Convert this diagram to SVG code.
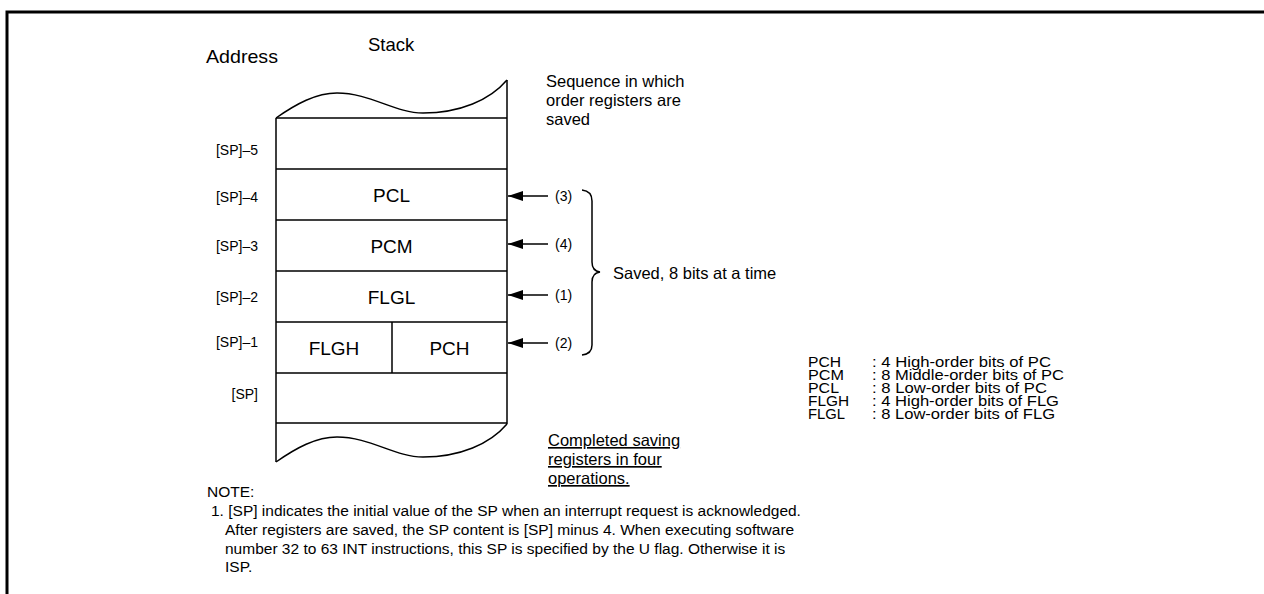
<svg xmlns="http://www.w3.org/2000/svg" width="1264" height="594" viewBox="0 0 1264 594">
<style>
text{font-family:"Liberation Sans",Arial,sans-serif;fill:#000}
.ln{stroke:#000;stroke-width:1.5;fill:none}
.addr{font-size:14px;text-anchor:end}
.reg{font-size:19px;text-anchor:middle}
.num{font-size:14px}
.lbl{font-size:16.5px}
.leg{font-size:14.5px}
.note{font-size:15.5px}
</style>
<defs>
<marker id="ah" markerUnits="userSpaceOnUse" markerWidth="16" markerHeight="10" refX="15" refY="5" orient="auto">
<path d="M0,0 L15,5 L0,10 Z" fill="#000"/>
</marker>
</defs>
<rect width="1264" height="594" fill="#fff"/>
<g id="frame">
<path d="M7,594 V12 H1264" stroke="#000" stroke-width="3" fill="none"/>
</g>
<g id="headings">
<text x="206" y="63" style="font-size:18.5px" textLength="72" lengthAdjust="spacingAndGlyphs">Address</text>
<text x="368" y="51" style="font-size:18.5px">Stack</text>
<text class="lbl" x="546" y="87">Sequence in which</text>
<text class="lbl" x="546" y="106">order registers are</text>
<text class="lbl" x="546" y="125">saved</text>
</g>
<g id="stack">
<path class="ln" d="M276,118 C296,104 316,93 337,93 C370,93 395,113 423,113 C460,113 490,100 507,80"/>
<path class="ln" d="M276,462 C296,448 316,437 337,437 C370,437 395,457 423,457 C460,457 490,444 507,424"/>
<path class="ln" d="M276,118 V462 M507,80 V424"/>
<path class="ln" d="M276,118 H507 M276,169 H507 M276,220 H507 M276,271 H507 M276,322 H507 M276,373 H507 M276,423 H507 M392,322 V373"/>
</g>
<g id="addresses">
<text class="addr" x="258" y="155">[SP]–5</text>
<text class="addr" x="258" y="202">[SP]–4</text>
<text class="addr" x="258" y="251">[SP]–3</text>
<text class="addr" x="258" y="302">[SP]–2</text>
<text class="addr" x="258" y="347">[SP]–1</text>
<text class="addr" x="258" y="399">[SP]</text>
</g>
<g id="cell-pcl"><text class="reg" x="391.5" y="202">PCL</text></g>
<g id="cell-pcm"><text class="reg" x="391.5" y="253">PCM</text></g>
<g id="cell-flgl"><text class="reg" x="391.5" y="304">FLGL</text></g>
<g id="cell-flgh"><text class="reg" x="334" y="355">FLGH</text></g>
<g id="cell-pch"><text class="reg" x="449.5" y="355">PCH</text></g>
<g id="connectors">
<line class="ln" x1="548" y1="196" x2="508" y2="196" marker-end="url(#ah)"/>
<line class="ln" x1="548" y1="244" x2="508" y2="244" marker-end="url(#ah)"/>
<line class="ln" x1="548" y1="295" x2="508" y2="295" marker-end="url(#ah)"/>
<line class="ln" x1="548" y1="343" x2="508" y2="343" marker-end="url(#ah)"/>
<path class="ln" d="M582,190 Q592,191 592,201 V262 Q592,271 600,272 Q592,273 592,282 V345 Q592,354 582,355"/>
</g>
<g id="order-labels">
<text class="num" x="555" y="201">(3)</text>
<text class="num" x="555" y="249">(4)</text>
<text class="num" x="555" y="300">(1)</text>
<text class="num" x="555" y="348">(2)</text>
<text class="lbl" x="613" y="279">Saved, 8 bits at a time</text>
</g>
<g id="completed">
<text class="lbl" x="548" y="446" text-decoration="underline">Completed saving</text>
<text class="lbl" x="548" y="465" text-decoration="underline">registers in four</text>
<text class="lbl" x="548" y="484" text-decoration="underline">operations.</text>
</g>
<g id="legend">
<text class="leg" x="808" y="367" textLength="33" lengthAdjust="spacingAndGlyphs">PCH</text><text class="leg" x="872" y="367" textLength="179" lengthAdjust="spacingAndGlyphs">: 4 High-order bits of PC</text>
<text class="leg" x="808" y="380" textLength="36" lengthAdjust="spacingAndGlyphs">PCM</text><text class="leg" x="872" y="380" textLength="192" lengthAdjust="spacingAndGlyphs">: 8 Middle-order bits of PC</text>
<text class="leg" x="808" y="393" textLength="31" lengthAdjust="spacingAndGlyphs">PCL</text><text class="leg" x="872" y="393" textLength="175" lengthAdjust="spacingAndGlyphs">: 8 Low-order bits of PC</text>
<text class="leg" x="808" y="406" textLength="41" lengthAdjust="spacingAndGlyphs">FLGH</text><text class="leg" x="872" y="406" textLength="187" lengthAdjust="spacingAndGlyphs">: 4 High-order bits of FLG</text>
<text class="leg" x="808" y="419" textLength="37" lengthAdjust="spacingAndGlyphs">FLGL</text><text class="leg" x="872" y="419" textLength="183" lengthAdjust="spacingAndGlyphs">: 8 Low-order bits of FLG</text>
</g>
<g id="note">
<text class="note" x="207" y="497">NOTE:</text>
<text class="note" x="211" y="516">1. [SP] indicates the initial value of the SP when an interrupt request is acknowledged.</text>
<text class="note" x="225" y="535">After registers are saved, the SP content is [SP] minus 4. When executing software</text>
<text class="note" x="225" y="554">number 32 to 63 INT instructions, this SP is specified by the U flag. Otherwise it is</text>
<text class="note" x="225" y="572">ISP.</text>
</g>
</svg>
